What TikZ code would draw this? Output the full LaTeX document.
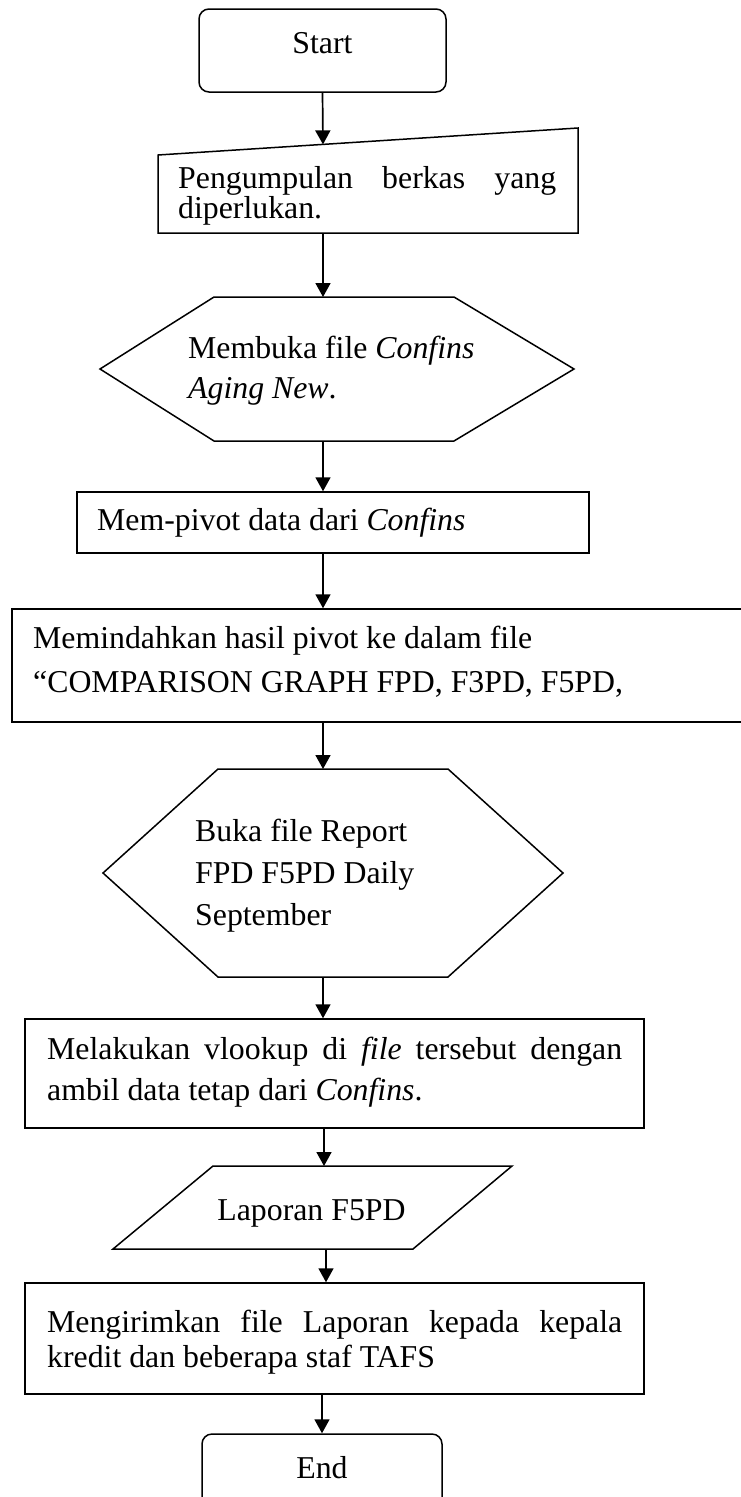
\documentclass[tikz,border=0pt]{standalone}
\usepackage{fontspec}
\setmainfont{Liberation Serif}
\usetikzlibrary{arrows.meta}
\newcommand\bodyfont{\fontsize{31.8pt}{38pt}\selectfont}

\begin{document}
\begin{tikzpicture}[x=1pt,y=-1pt,
  outline/.style={draw, line width=1.5pt, line join=miter},
  box/.style={outline, rectangle, inner sep=0pt},
  flow/.style={line width=1.7pt, -{Triangle[length=14pt,width=15pt]}},
  txt/.style={anchor=base west, inner sep=0pt, font=\bodyfont},
  ctxt/.style={anchor=base, inner sep=0pt, font=\bodyfont}]
\useasboundingbox (0,0) rectangle (741,1497);

% terminal: start
\node[box, rounded corners=10pt, minimum width=247pt, minimum height=83pt] (start) at (322.5,50.5) {};
\node[ctxt] (tstart) at (322.5,53) {Start};

% manual input: gathering the files
\draw[outline] (158,155) -- (578,128) -- (578,233) -- (158,233) -- cycle;
\coordinate (inTop) at (323,144.4);
\coordinate (inBot) at (323,233);
\node[txt] (tin1) at (178,188) {\makebox[378pt][s]{Pengumpulan berkas yang}};
\node[txt] (tin2) at (178,218) {diperlukan.};

% preparation: open Confins
\draw[outline] (100,369) -- (214,297) -- (454,297) -- (574,369) -- (454,441) -- (214,441) -- cycle;
\coordinate (hexATop) at (323,297);
\coordinate (hexABot) at (323,441);
\node[txt] (thexA1) at (188,358) {Membuka file \textit{Confins}};
\node[txt] (thexA2) at (188,398) {\textit{Aging New}.};

% process: pivot
\node[box, minimum width=512pt, minimum height=61pt] (pivot) at (333,522.5) {};
\node[txt] (tpivot) at (97,530) {Mem-pivot data dari \textit{Confins}};

% process: move pivot result
\node[box, minimum width=748pt, minimum height=113pt] (move) at (386,665.5) {};
\node[txt] (tmove1) at (33,648) {Memindahkan hasil pivot ke dalam file};
\node[txt] (tmove2) at (33,692) {“COMPARISON GRAPH FPD, F3PD, F5PD,};

% preparation: open report
\draw[outline] (103,873) -- (218,769) -- (448,769) -- (563,873) -- (448,977) -- (218,977) -- cycle;
\coordinate (hexBTop) at (323,769);
\coordinate (hexBBot) at (323,977);
\node[txt] (thexB1) at (195,841) {Buka file Report};
\node[txt] (thexB2) at (195,883) {FPD F5PD Daily};
\node[txt] (thexB3) at (195,925) {September};

% process: vlookup
\node[box, minimum width=619pt, minimum height=109pt] (vlook) at (334.5,1073.5) {};
\node[txt] (tvlook1) at (47,1059) {\makebox[575pt][s]{Melakukan vlookup di \textit{file} tersebut dengan}};
\node[txt] (tvlook2) at (47,1100) {ambil data tetap dari \textit{Confins}.};

% data: report
\draw[outline] (213,1166) -- (512,1166) -- (413,1249) -- (113,1249) -- cycle;
\coordinate (repTop) at (324,1166);
\coordinate (repBot) at (326,1249);
\node[ctxt] (trep) at (311.5,1220) {Laporan F5PD};

% process: send report
\node[box, minimum width=619pt, minimum height=111pt] (send) at (334.5,1338.5) {};
\node[txt] (tsend1) at (47,1332) {\makebox[575pt][s]{Mengirimkan file Laporan kepada kepala}};
\node[txt] (tsend2) at (47,1367) {kredit dan beberapa staf TAFS};

% terminal: end
\node[box, rounded corners=10pt, minimum width=240pt, minimum height=96pt] (end) at (322,1482) {};
\node[ctxt] (tend) at (322,1478) {End};

% connectors
\draw[flow] (start.south) -- (inTop);
\draw[flow] (inBot) -- (hexATop);
\draw[flow] (hexABot) -- (hexABot |- pivot.north);
\draw[flow] (hexABot |- pivot.south) -- (hexABot |- move.north);
\draw[flow] (hexABot |- move.south) -- (hexBTop);
\draw[flow] (hexBBot) -- (hexBBot |- vlook.north);
\draw[flow] (repTop |- vlook.south) -- (repTop);
\draw[flow] (repBot) -- (repBot |- send.north);
\draw[flow] (end.north |- send.south) -- (end.north);
\end{tikzpicture}
\end{document}
